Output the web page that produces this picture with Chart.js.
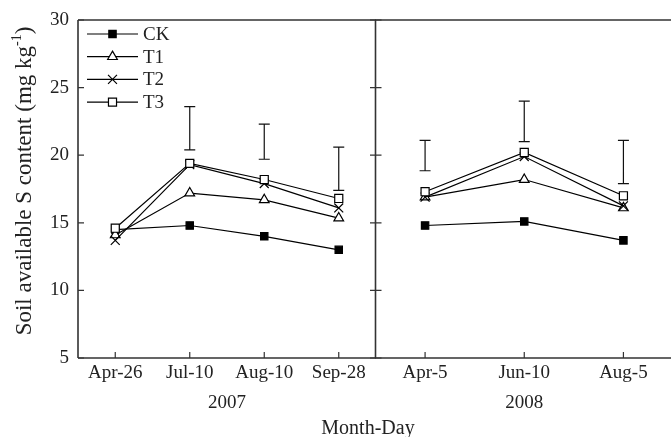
<!DOCTYPE html>
<html><head><meta charset="utf-8">
<script src="https://cdn.jsdelivr.net/npm/chart.js@4/dist/chart.umd.min.js"></script>
<style>
html,body{margin:0;padding:0;background:#fff;overflow:hidden;width:671px;height:437px;position:relative;}
#ca{position:absolute;left:0;top:0;}
#cb{position:absolute;left:375px;top:0;}
#xt{position:absolute;left:268px;width:200px;top:415px;text-align:center;font:20px 'Liberation Serif';line-height:24px;color:#222;}
</style></head><body>
<canvas id="ca" width="376" height="437"></canvas>
<canvas id="cb" width="298" height="437"></canvas>
<div id="xt">Month-Day</div>
<script>
// ---- data ----
const labels2007 = ['Apr-26','Jul-10','Aug-10','Sep-28'];
const labels2008 = ['Apr-5','Jun-10','Aug-5'];
const yTicks = [5,10,15,20,25,30];
const seriesNames = ['CK','T1','T2','T3'];
const ck2007 = [14.5, 14.8, 14.0, 13.0];
const t1_2007 = [14.1, 17.2, 16.7, 15.35];
const t2_2007 = [13.7, 19.3, 17.9, 16.1];
const t3_2007 = [14.6, 19.4, 18.2, 16.8];
const errLow2007 = [null, 20.4, 19.7, 17.4];
const errHigh2007 = [null, 23.6, 22.3, 20.6];
const ck2008 = [14.8, 15.1, 13.7];
const t1_2008 = [16.9, 18.2, 16.1];
const t2_2008 = [16.9, 19.9, 16.25];
const t3_2008 = [17.3, 20.2, 17.0];
const errLow2008 = [18.85, 21.0, 17.9];
const errHigh2008 = [21.1, 24.0, 21.1];

// ---- styles ----
const FONT = 'Liberation Serif';
const TXT = '#222';
const AX = '#333';
const pstyles = [
  {pointStyle:'rect', radius:5.2, bg:'#000', order:4},
  {pointStyle:'triangle', radius:5.6, bg:'#fff', order:3},
  {pointStyle:'crossRot', radius:6.3, bg:'#fff', order:2},
  {pointStyle:'rect', radius:5.7, bg:'#fff', order:1}
];
function makeDatasets(arrs){
  return arrs.map((d,i)=>({
    label: seriesNames[i], data: d,
    borderColor:'#000', borderWidth:1.2, tension:0, fill:false,
    pointStyle: pstyles[i].pointStyle, pointRadius: pstyles[i].radius,
    pointBackgroundColor: pstyles[i].bg, pointBorderColor:'#000', pointBorderWidth:1.2,
    order: pstyles[i].order
  }));
}

const framePlugin = {
  id:'frame',
  afterDatasetsDraw(chart, args, opts){
    const {ctx, chartArea:a, scales} = chart;
    ctx.save();
    ctx.strokeStyle = AX; ctx.lineWidth = 1.6;
    ctx.beginPath();
    ctx.moveTo(a.left, a.top); ctx.lineTo(a.right + 2, a.top);
    ctx.moveTo(a.left, a.bottom); ctx.lineTo(a.right + 2, a.bottom);
    ctx.moveTo(a.left, a.top); ctx.lineTo(a.left, a.bottom);
    if (opts.right) { ctx.moveTo(a.right - 0.5, a.top); ctx.lineTo(a.right - 0.5, a.bottom); }
    ctx.stroke();
    // inward ticks
    ctx.lineWidth = 1.2;
    ctx.beginPath();
    const xs = scales.x;
    for (let i = 0; i < xs.ticks.length; i++) {
      const px = xs.getPixelForTick(i);
      ctx.moveTo(px, a.bottom); ctx.lineTo(px, a.bottom - 6);
    }
    const ys = scales.y;
    yTicks.forEach(v=>{
      const py = ys.getPixelForValue(v);
      ctx.moveTo(a.left, py); ctx.lineTo(a.left + 6, py);
      if (opts.right) { ctx.moveTo(a.right, py); ctx.lineTo(a.right - 6, py); }
    });
    ctx.stroke();
    // error bars
    const lo = opts.low, hi = opts.high;
    ctx.lineWidth = 1.2; ctx.strokeStyle = '#111';
    ctx.beginPath();
    lo.forEach((l,i)=>{
      if (l == null) return;
      const px = xs.getPixelForValue(i);
      const y1 = ys.getPixelForValue(l), y2 = ys.getPixelForValue(hi[i]);
      ctx.moveTo(px, y1); ctx.lineTo(px, y2);
      ctx.moveTo(px - 5.5, y1); ctx.lineTo(px + 5.5, y1);
      ctx.moveTo(px - 5.5, y2); ctx.lineTo(px + 5.5, y2);
    });
    ctx.stroke();
    ctx.restore();
  },
  afterDraw(chart, args, opts){
    if (!opts.legend) return;
    const ctx = chart.ctx;
    ctx.save();
    // y-axis title with superscript
    const fs = 23;
    const main = 'Soil available S content (mg kg';
    const sup = '-1';
    const end = ')';
    ctx.font = fs + 'px ' + FONT;
    const w1 = ctx.measureText(main).width;
    const w3 = ctx.measureText(end).width;
    ctx.font = Math.round(fs*0.6) + 'px ' + FONT;
    const w2 = ctx.measureText(sup).width;
    const total = w1 + w2 + w3;
    ctx.translate(25, 181);
    ctx.rotate(-Math.PI/2);
    ctx.fillStyle = TXT;
    ctx.textBaseline = 'middle'; ctx.textAlign = 'left';
    let x0 = -total/2;
    ctx.font = fs + 'px ' + FONT;
    ctx.fillText(main, x0, 0);
    ctx.font = Math.round(fs*0.6) + 'px ' + FONT;
    ctx.fillText(sup, x0 + w1, -8);
    ctx.font = fs + 'px ' + FONT;
    ctx.fillText(end, x0 + w1 + w2, 0);
    ctx.restore();

    // legend
    ctx.save();
    const helpers = Chart.helpers;
    chart.data.datasets.forEach((ds,i)=>{
      const y = 34 + i*22.7;
      ctx.strokeStyle = '#000'; ctx.lineWidth = 1.2;
      ctx.beginPath(); ctx.moveTo(87, y); ctx.lineTo(138, y); ctx.stroke();
      ctx.fillStyle = ds.pointBackgroundColor; ctx.strokeStyle = '#000'; ctx.lineWidth = 1.2;
      helpers.drawPoint(ctx, {pointStyle: ds.pointStyle, radius: ds.pointRadius, rotation:0, borderWidth:1.2}, 112.5, y);
      ctx.fillStyle = TXT; ctx.font = '19px ' + FONT; ctx.textBaseline = 'middle'; ctx.textAlign = 'left';
      ctx.fillText(ds.label, 143, y + 1);
    });
    ctx.restore();
  }
};

function baseOptions(yearText, showY){
  return {
    responsive:false, animation:false, events:[],
    layout:{autoPadding:false, padding:{top:20, left: showY ? 0 : 0.5, right:0, bottom:0}},
    plugins:{legend:{display:false}, tooltip:{enabled:false}},
    scales:{
      x:{type:'category', offset:true,
         grid:{display:false, drawTicks:false}, border:{display:false},
         ticks:{font:{family:FONT, size:19}, color:TXT, padding:4, maxRotation:0, autoSkip:false},
         title:{display:true, text:yearText, font:{family:FONT, size:19}, color:TXT, padding:{top:0, bottom:23}},
         afterFit(s){ s.height = 79; s.paddingLeft = 0; s.paddingRight = 0; }},
      y:{min:5, max:30, display: showY,
         afterBuildTicks(s){ s.ticks = yTicks.map(v=>({value:v})); },
         grid:{display:false, drawTicks:false}, border:{display:false},
         ticks:{font:{family:FONT, size:19}, color:TXT, padding:9},
         afterFit(s){ s.width = showY ? 78 : 0; s.paddingTop = 0; s.paddingBottom = 0; }}
    }
  };
}

const optA = baseOptions('2007', true);
optA.plugins.frame = {right:true, legend:true, low:errLow2007, high:errHigh2007};
new Chart(document.getElementById('ca'), {
  type:'line',
  data:{labels:labels2007, datasets:makeDatasets([ck2007,t1_2007,t2_2007,t3_2007])},
  options:optA, plugins:[framePlugin]
});

const optB = baseOptions('2008', false);
optB.plugins.frame = {right:false, legend:false, low:errLow2008, high:errHigh2008};
new Chart(document.getElementById('cb'), {
  type:'line',
  data:{labels:labels2008, datasets:makeDatasets([ck2008,t1_2008,t2_2008,t3_2008])},
  options:optB, plugins:[framePlugin]
});
</script>
</body></html>
